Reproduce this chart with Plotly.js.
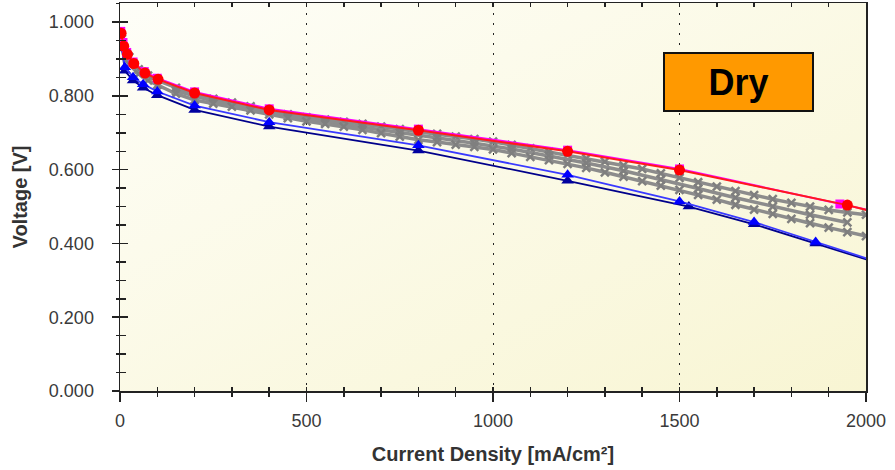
<!DOCTYPE html>
<html>
<head>
<meta charset="utf-8">
<script src="https://cdn.plot.ly/plotly-3.0.1.min.js"></script>
<style>html,body{margin:0;padding:0;background:#fff;}#chart{width:895px;height:470px;}</style>
</head>
<body>
<div id="chart"></div>
<script>
// ---- data ----
const redX   = [3, 10, 20, 37, 67, 102, 200, 400, 800, 1200, 1500, 1950, 2050];
const redV   = [0.970, 0.935, 0.913, 0.888, 0.862, 0.845, 0.808, 0.762, 0.707, 0.650, 0.599, 0.504, 0.478];

const magX   = [2, 8, 18, 35, 65, 100, 200, 400, 800, 1200, 1500, 1930, 2050];
const magV   = [0.975, 0.945, 0.918, 0.892, 0.866, 0.848, 0.811, 0.765, 0.710, 0.653, 0.602, 0.507, 0.481];

const blueX  = [2, 13, 35, 62, 100, 200, 400, 800, 1200, 1500, 1700, 1865, 2050];
const blueV  = [0.950, 0.878, 0.851, 0.832, 0.812, 0.774, 0.729, 0.666, 0.586, 0.514, 0.458, 0.404, 0.344];

const navyX  = [5, 13, 35, 62, 100, 200, 400, 800, 1200, 1525, 1700, 1865, 2050];
const navyV  = [0.930, 0.868, 0.842, 0.822, 0.802, 0.762, 0.717, 0.652, 0.570, 0.500, 0.452, 0.400, 0.341];

const grayX  = [5, 25, 50, 75, 100, 150, 200, 250, 300, 350, 400, 450, 500, 550, 600, 650, 700, 750, 800, 850, 900, 950, 1000,
                1050, 1100, 1150, 1200, 1250, 1300, 1350, 1400, 1450, 1500, 1550, 1600, 1650, 1700, 1750, 1800, 1850, 1900, 1950, 2000];
const grayUpperV = [0.955, 0.905, 0.872, 0.855, 0.842, 0.822, 0.804, 0.792, 0.782, 0.772, 0.758, 0.750, 0.742, 0.736, 0.730, 0.724,
                0.717, 0.710, 0.703, 0.697, 0.690, 0.683, 0.676, 0.667, 0.658, 0.649, 0.640, 0.631, 0.622, 0.612, 0.602, 0.590,
                0.578, 0.566, 0.554, 0.542, 0.531, 0.520, 0.510, 0.500, 0.491, 0.484, 0.478];
const grayLowerV = [0.930, 0.885, 0.860, 0.842, 0.830, 0.806, 0.789, 0.779, 0.771, 0.761, 0.750, 0.740, 0.731, 0.724, 0.717, 0.708,
                0.699, 0.690, 0.681, 0.675, 0.668, 0.662, 0.655, 0.645, 0.635, 0.626, 0.616, 0.605, 0.593, 0.581, 0.569, 0.557,
                0.545, 0.532, 0.519, 0.505, 0.492, 0.480, 0.467, 0.455, 0.443, 0.431, 0.420];
const grayMidX = [150, 250, 350, 450, 550, 650, 750, 850, 950, 1050, 1150, 1250, 1350, 1450, 1550, 1650, 1750, 1850, 1950];
const grayMidV = [0.814, 0.786, 0.766, 0.745, 0.730, 0.716, 0.700, 0.686, 0.672, 0.656, 0.638, 0.618, 0.597, 0.574, 0.549, 0.524, 0.500, 0.478, 0.457];

const xTickVals = [0, 500, 1000, 1500, 2000];
const yTickVals = [0, 0.2, 0.4, 0.6, 0.8, 1.0];
const labelText = 'Dry';
const xTitle = 'Current Density [mA/cm²]';
const yTitle = 'Voltage [V]';

// ---- traces ----
function grayTrace(x, y) {
  return {x: x, y: y, type: 'scatter', mode: 'lines+markers', hoverinfo: 'skip',
    line: {color: '#8c8c8c', width: 3.5},
    marker: {symbol: 'x-thin-open', size: 8, color: '#7f7f7f', line: {color: '#7f7f7f', width: 2.5}}};
}
const traces = [
  grayTrace(grayX, grayUpperV),
  grayTrace(grayMidX, grayMidV),
  grayTrace(grayX, grayLowerV),
  {x: navyX, y: navyV, type: 'scatter', mode: 'lines+markers', line: {color: '#00008b', width: 1.8},
   marker: {symbol: 'triangle-up', size: 11, color: '#0000a0'}},
  {x: blueX, y: blueV, type: 'scatter', mode: 'lines+markers', line: {color: '#3a3aff', width: 1.8},
   marker: {symbol: 'triangle-up', size: 11, color: '#0000ff'}},
  {x: magX, y: magV, type: 'scatter', mode: 'lines+markers', line: {color: '#ff00ff', width: 2},
   marker: {symbol: 'square', size: 9, color: '#ff00ff'}},
  {x: redX, y: redV, type: 'scatter', mode: 'lines+markers', line: {color: '#ff1a1a', width: 2},
   marker: {symbol: 'circle', size: 11, color: '#ff0000'}},
  {x: [], y: [], xaxis: 'x2', yaxis: 'y2', type: 'scatter', mode: 'markers', hoverinfo: 'skip'}
];

const bgSvg = '<svg xmlns="http://www.w3.org/2000/svg" width="100" height="100" preserveAspectRatio="none">' +
  '<defs><linearGradient id="g" x1="0" y1="0" x2="1" y2="1">' +
  '<stop offset="0" stop-color="#fefef8"/><stop offset="1" stop-color="#f8f5d3"/></linearGradient></defs>' +
  '<rect width="100" height="100" fill="url(#g)"/></svg>';

const tickFont = {family: 'Liberation Sans, Arial, sans-serif', size: 18, color: '#3a3a3a'};
const titleFont = {family: 'Liberation Sans, Arial, sans-serif', size: 20, color: '#333333'};
const YMAX = 1.052;

const layout = {
  width: 895, height: 470,
  margin: {l: 120, r: 29, t: 3, b: 79},
  paper_bgcolor: '#ffffff',
  plot_bgcolor: 'rgba(0,0,0,0)',
  showlegend: false,
  images: [{source: 'data:image/svg+xml;charset=utf-8,' + encodeURIComponent(bgSvg),
    xref: 'paper', yref: 'paper', x: 0, y: 1, sizex: 1, sizey: 1,
    sizing: 'stretch', layer: 'below', xanchor: 'left', yanchor: 'top'}],
  xaxis: {range: [0, 2000], tickvals: xTickVals, ticktext: xTickVals.map(String),
    ticks: 'outside', ticklen: 9, tickwidth: 1.5, tickcolor: '#222',
    minor: {dtick: 100, tick0: 0, ticks: 'outside', ticklen: 4, tickwidth: 1.5, tickcolor: '#222', showgrid: false},
    showline: true, linecolor: '#222', linewidth: 1.5, mirror: true,
    showgrid: true, gridcolor: '#222', gridwidth: 1, griddash: '2px,8px',
    zeroline: false, tickfont: tickFont, ticklabelstandoff: 4,
    title: {text: '<b>' + xTitle + '</b>', font: titleFont, standoff: 17}},
  yaxis: {range: [0, YMAX], tickvals: yTickVals, tickformat: '.3f',
    ticks: 'outside', ticklen: 7, tickwidth: 1.5, tickcolor: '#222',
    minor: {dtick: 0.05, tick0: 0, ticks: 'outside', ticklen: 3, tickwidth: 1.5, tickcolor: '#222', showgrid: false},
    showline: true, linecolor: '#222', linewidth: 1.5, mirror: true,
    showgrid: false, zeroline: false, tickfont: tickFont, ticklabelstandoff: 14,
    title: {text: '<b>' + yTitle + '</b>', font: titleFont, standoff: 16}},
  xaxis2: {overlaying: 'x', anchor: 'y2', range: [0, 2000], tickvals: xTickVals, showticklabels: false,
    ticks: 'inside', ticklen: 4, tickwidth: 1.5, tickcolor: '#222', mirror: 'ticks',
    minor: {dtick: 100, tick0: 0, ticks: 'inside', ticklen: 4, tickwidth: 1.5, tickcolor: '#222', showgrid: false},
    showline: false, showgrid: false, zeroline: false},
  yaxis2: {overlaying: 'y', anchor: 'x2', side: 'left', range: [0, YMAX], tickvals: yTickVals, showticklabels: false,
    ticks: 'inside', ticklen: 8, tickwidth: 1.5, tickcolor: '#222',
    minor: {dtick: 0.05, tick0: 0, ticks: 'inside', ticklen: 6, tickwidth: 1.5, tickcolor: '#222', showgrid: false},
    showline: false, showgrid: false, zeroline: false},
  annotations: [{x: 1658, y: 0.8365, xref: 'x', yref: 'y', showarrow: false,
    text: '<b>' + labelText + '</b>', xanchor: 'center', yanchor: 'middle',
    width: 147, height: 56, bgcolor: '#ff9900', bordercolor: '#111', borderwidth: 2, borderpad: 0,
    font: {family: 'Liberation Sans, Arial, sans-serif', size: 36, color: '#000'}}]
};

Plotly.newPlot('chart', traces, layout, {staticPlot: true, displayModeBar: false});
</script>
</body>
</html>
